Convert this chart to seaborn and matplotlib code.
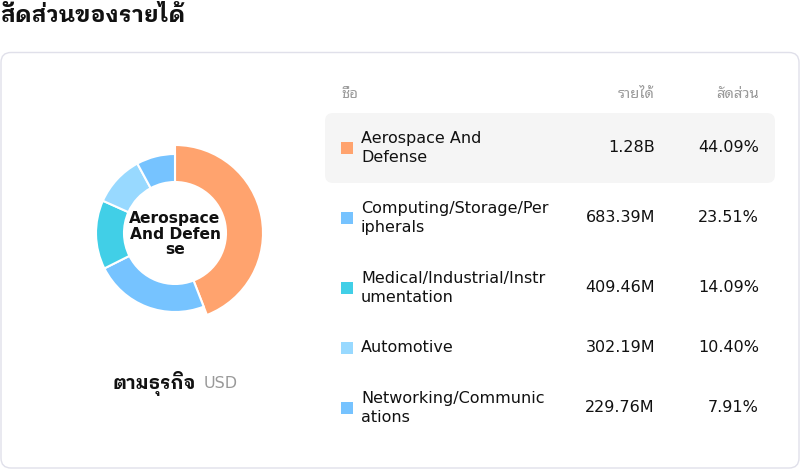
import seaborn as sns
import matplotlib
matplotlib.use("Agg")
import matplotlib.pyplot as plt
from matplotlib.patches import FancyBboxPatch

# data
segments = ["Aerospace And\nDefense", "Computing/Storage/Per\nipherals",
            "Medical/Industrial/Instr\numentation", "Automotive",
            "Networking/Communic\nations"]
revenue_m = [1280.0, 683.39, 409.46, 302.19, 229.76]
share_pct = [44.09, 23.51, 14.09, 10.40, 7.91]
seg_colors = ["#FFA36E", "#76C3FF", "#41CFE7", "#98D9FF", "#76C3FF"]
center_label = "Aerospace\nAnd Defen\nse"

title = "สัดส่วนของรายได้"
col_name, col_rev, col_share = "ชื่อ", "รายได้", "สัดส่วน"
sub_title = "ตามธุรกิจ"
currency = "USD"


def fmt_rev(v):
    return f"{v/1000:.2f}B" if v >= 1000 else f"{v:.2f}M"


sns.set_theme(style="white")
plt.rcParams["font.family"] = ["IBM Plex Sans Thai Looped", "DejaVu Sans"]
thai_bold = ["IBM Plex Sans Thai Looped", "DejaVu Sans"]
thai_reg = ["Noto Sans Thai Looped", "IBM Plex Sans Thai Looped", "DejaVu Sans"]

fig = plt.figure(figsize=(8, 4.69), dpi=100)
ax = fig.add_axes([0, 0, 1, 1])
ax.set_xlim(0, 800)
ax.set_ylim(469, 0)
ax.axis("off")
renderer = fig.canvas.get_renderer()


def fit_width(t, width):
    # scale the font so the text spans the same pixel width as in the reference
    w = t.get_window_extent(renderer).width
    t.set_fontsize(t.get_fontsize() * width / w)


# card
ax.add_patch(FancyBboxPatch((1, 52.5), 798, 415.5, boxstyle="round,pad=0,rounding_size=10",
                            fc="white", ec="#E0E0EA", lw=1))

t = ax.text(0, 15, title, fontsize=16, fontweight="bold", va="center", ha="left",
            color="#111111", family=thai_bold)
fit_width(t, 185)

# header
hdr = dict(fontsize=10.5, color="#9A9A9A", va="center", family=thai_reg)
ax.text(341, 95, col_name, ha="left", **hdr)
ax.text(655, 95, col_rev, ha="right", **hdr)
t = ax.text(759, 95, col_share, ha="right", **hdr)
fs = t.get_fontsize() * 43 / t.get_window_extent(renderer).width
for tt in ax.texts[-3:]:
    tt.set_fontsize(fs)

# rows
y = 113
centers = []
for i, name in enumerate(segments):
    h = 50 + 20 * (name.count("\n"))
    cy = y + h / 2
    centers.append(cy)
    if i == 0:
        ax.add_patch(FancyBboxPatch((325, y), 450, h, boxstyle="round,pad=0,rounding_size=8",
                                    fc="#F5F5F5", ec="none"))
    ax.text(361, cy, name, fontsize=11.5, va="center", ha="left", color="#111111",
            linespacing=1.38, family="DejaVu Sans")
    ax.text(655, cy, fmt_rev(revenue_m[i]), fontsize=11.5, va="center", ha="right",
            color="#111111", family="DejaVu Sans")
    ax.text(759, cy, f"{share_pct[i]:.2f}%", fontsize=11.5, va="center", ha="right",
            color="#111111", family="DejaVu Sans")
    y += h

sns.scatterplot(x=[347] * len(segments), y=centers, hue=list(range(len(segments))),
                palette=seg_colors, marker="s", s=78, linewidth=0, legend=False, ax=ax)
ax.set_xlim(0, 800)
ax.set_ylim(469, 0)

# donut
R = 100
pax = fig.add_axes([(175 - R) / 800, 1 - (233 + R) / 469, 2 * R / 800, 2 * R / 469])
wedges, _ = pax.pie(share_pct, colors=seg_colors, startangle=90, counterclock=False,
                    radius=0.79, wedgeprops=dict(width=0.28, edgecolor="white", linewidth=1.5))
wedges[0].set_radius(0.88)
wedges[0].set_width(0.37)
pax.set_xlim(-1, 1)
pax.set_ylim(-1, 1)
pax.text(0, -0.01, center_label, ha="center", va="center", fontsize=11.2, fontweight="bold",
         linespacing=1.02, family="DejaVu Sans", color="#111111")

t = ax.text(112, 383, sub_title, fontsize=14.5, fontweight="bold", va="center", ha="left",
            color="#111111", family=thai_bold)
fit_width(t, 83)
ax.text(204, 383, currency, fontsize=11.5, va="center", ha="left", color="#999999",
        family="DejaVu Sans")

fig.savefig("out.png", dpi=100)
